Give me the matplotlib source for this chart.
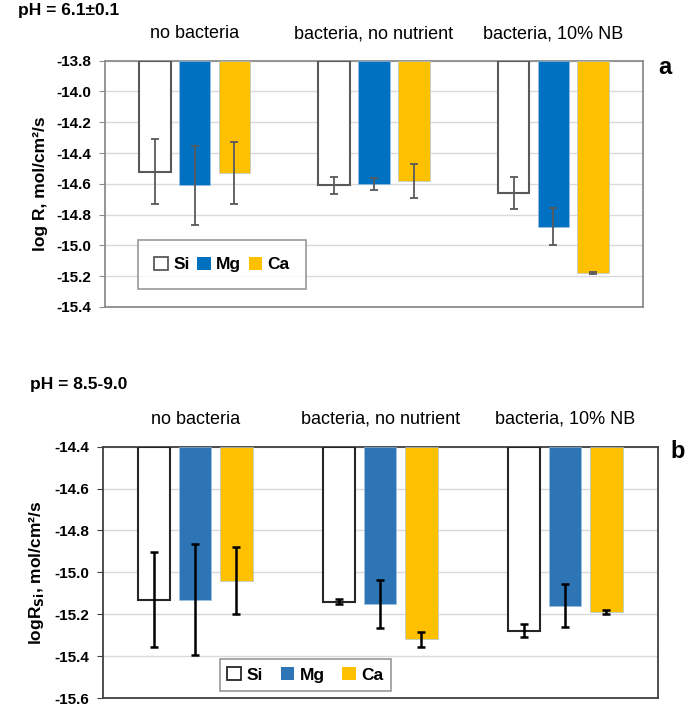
import numpy as np
import matplotlib.pyplot as plt
from matplotlib.patches import Patch
from matplotlib.transforms import blended_transform_factory

plt.rcParams['font.family'] = ['Liberation Sans Narrow', 'Liberation Sans', 'DejaVu Sans']

groups = ['no bacteria', 'bacteria, no nutrient', 'bacteria, 10% NB']
elements = ['Si', 'Mg', 'Ca']

# panel a, pH = 6.1
a_vals = {'Si': [-14.52, -14.61, -14.66],
          'Mg': [-14.61, -14.60, -14.88],
          'Ca': [-14.53, -14.58, -15.18]}
a_err = {'Si': [0.21, 0.055, 0.105],
         'Mg': [0.255, 0.04, 0.12],
         'Ca': [0.2, 0.11, 0.005]}
a_ticks = [-13.8, -14.0, -14.2, -14.4, -14.6, -14.8, -15.0, -15.2, -15.4]

# panel b, pH = 8.5-9.0
b_vals = {'Si': [-15.13, -15.14, -15.28],
          'Mg': [-15.13, -15.15, -15.16],
          'Ca': [-15.04, -15.32, -15.19]}
b_err = {'Si': [0.225, 0.012, 0.031],
         'Mg': [0.263, 0.114, 0.102],
         'Ca': [0.16, 0.037, 0.01]}
b_ticks = [-14.4, -14.6, -14.8, -15.0, -15.2, -15.4, -15.6]

fig = plt.figure(figsize=(6.85, 7.05), dpi=100)


def panel(rect, vals, errs, ticks, colors, edge, spine_col, err_col, err_lw, leg_box, leg_pad,
          ylabel, letter, letter_xy, title, title_xy):
    ax = fig.add_axes(rect)
    top, bottom = ticks[0], ticks[-1]
    x = np.arange(len(groups))
    w = 0.176
    off = 0.222
    for i, el in enumerate(elements):
        v = np.array(vals[el])
        xs = x + (i - 1) * off
        if el == 'Si':
            ax.bar(xs, v - top, w, bottom=top, facecolor='white', edgecolor=edge, linewidth=1.5, zorder=3)
        else:
            ax.bar(xs, v - top, w, bottom=top, color=colors[el], edgecolor='#9DC3E6', linewidth=0.4, zorder=3)
        ax.errorbar(xs, v, yerr=errs[el], fmt='none', ecolor=err_col, elinewidth=err_lw,
                    capsize=2.6, capthick=err_lw, zorder=4)
    ax.set_xlim(-0.5, 2.5)
    ax.set_ylim(bottom, top)
    ax.set_yticks(ticks)
    ax.set_yticklabels(['%.1f' % t for t in ticks], fontweight='bold', fontsize=11)
    ax.set_xticks([])
    ax.grid(axis='y', color='#d9d9d9', linewidth=1, zorder=0)
    ax.tick_params(axis='y', length=4, color=spine_col, pad=6)
    for s in ax.spines.values():
        s.set_color(spine_col)
        s.set_linewidth(1.3)
    trans = blended_transform_factory(ax.transData, ax.transAxes)
    for xi, g in zip(x, groups):
        ax.text(xi, 1.11, g, transform=trans, ha='center', va='center', fontsize=13)
    ax.set_ylabel(ylabel, fontweight='bold', fontsize=12.5, labelpad=6)
    handles = [Patch(facecolor='white', edgecolor=edge, linewidth=1.3, label='Si'),
               Patch(facecolor=colors['Mg'], label='Mg'),
               Patch(facecolor=colors['Ca'], label='Ca')]
    leg = ax.legend(handles=handles, ncol=3, loc='center', bbox_to_anchor=leg_box,
                    bbox_transform=fig.transFigure, mode='expand', fancybox=False,
                    frameon=True, handlelength=0.8, handleheight=0.8, handletextpad=0.3,
                    columnspacing=1.2, borderpad=leg_pad,
                    prop={'weight': 'bold', 'size': 12.5})
    leg.get_frame().set_edgecolor('#7f7f7f')
    leg.get_frame().set_linewidth(1.2)
    fig.text(letter_xy[0] / 685, 1 - letter_xy[1] / 705, letter, fontsize=17,
             fontweight='bold', ha='center', va='center')
    fig.text(title_xy[0] / 685, 1 - title_xy[1] / 705, title, fontsize=12.5,
             fontweight='bold', ha='left', va='center')
    return ax


panel([105 / 685, 1 - 307 / 705, 538 / 685, 246.3 / 705], a_vals, a_err, a_ticks,
      {'Mg': '#0070C0', 'Ca': '#FFC000'}, '#595959', '#8c8c8c', '#595959', 1.3,
      (129 / 685, 1 - 288 / 705, 186 / 685, 47 / 705), 0.95, 'log R, mol/cm²/s',
      'a', (665, 67), 'pH = 6.1±0.1', (18, 11))

panel([102.7 / 685, 1 - 698 / 705, 555 / 685, 251.3 / 705], b_vals, b_err, b_ticks,
      {'Mg': '#2E75B6', 'Ca': '#FFC000'}, '#262626', '#404040', '#000000', 1.8,
      (211 / 685, 1 - 692 / 705, 189 / 685, 34 / 705), 0.45, 'logR$_{\\mathbf{Si}}$, mol/cm²/s',
      'b', (678, 452), 'pH = 8.5-9.0', (30, 385))

fig.savefig('out.png', dpi=100)
